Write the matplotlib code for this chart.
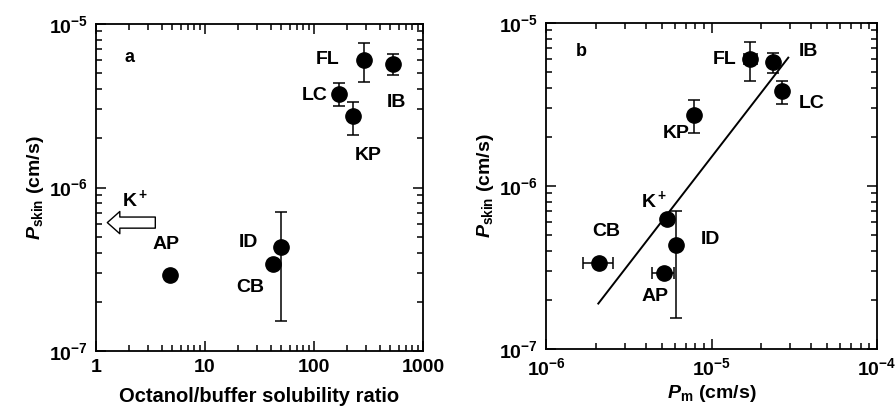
import matplotlib
matplotlib.use("Agg")
import matplotlib.pyplot as plt
import numpy as np

plt.rcParams['font.family'] = ['Liberation Sans', 'DejaVu Sans']
plt.rcParams['font.weight'] = 'bold'
plt.rcParams['axes.labelweight'] = 'bold'
plt.rcParams['mathtext.fontset'] = 'custom'
plt.rcParams['mathtext.rm'] = 'Liberation Sans:bold'
plt.rcParams['mathtext.bf'] = 'Liberation Sans:bold'
plt.rcParams['mathtext.it'] = 'Liberation Sans:italic:bold'
plt.rcParams['mathtext.default'] = 'rm'

# ---- panel a : skin permeability vs octanol/buffer ratio
names_a = ['FL', 'IB', 'LC', 'KP', 'ID', 'CB', 'AP']
ratio_a = [289, 527, 169, 226, 49.8, 42, 4.77]
pskin_a = [6.03e-6, 5.67e-6, 3.73e-6, 2.72e-6, 4.33e-7, 3.39e-7, 2.90e-7]
err_hi_a = [7.6e-6, 6.52e-6, 4.38e-6, 3.33e-6, 7.05e-7, 3.39e-7, 2.90e-7]
err_lo_a = [4.4e-6, 4.85e-6, 3.16e-6, 2.10e-6, 1.53e-7, 3.39e-7, 2.90e-7]
lab_x_a = [134, 565, 102, 313, 24.8, 25.9, 4.39]
lab_y_a = [6.03e-6, 3.33e-6, 3.63e-6, 1.56e-6, 4.64e-7, 2.46e-7, 4.45e-7]
k_pskin = 6.1e-7   # K+ only has upper bound on ratio -> arrow

# ---- panel b : skin vs membrane permeability
names_b = ['FL', 'IB', 'LC', 'KP', 'K$^+$', 'ID', 'CB', 'AP']
pm_b = [1.71e-5, 2.36e-5, 2.65e-5, 7.8e-6, 5.36e-6, 6.1e-6, 2.10e-6, 5.14e-6]
pskin_b = [6.04e-6, 5.74e-6, 3.81e-6, 2.74e-6, 6.3e-7, 4.33e-7, 3.39e-7, 2.94e-7]
yhi_b = [7.64e-6, 6.55e-6, 4.41e-6, 3.36e-6, 6.3e-7, 7.03e-7, 3.39e-7, 2.94e-7]
ylo_b = [4.41e-6, 4.93e-6, 3.2e-6, 2.1e-6, 6.3e-7, 1.55e-7, 3.39e-7, 2.94e-7]
xhi_b = [1.88e-5, 2.36e-5, 2.65e-5, 7.8e-6, 5.36e-6, 6.1e-6, 2.55e-6, 5.9e-6]
xlo_b = [1.58e-5, 2.36e-5, 2.65e-5, 7.8e-6, 5.36e-6, 6.1e-6, 1.68e-6, 4.35e-6]
lab_x_b = [1.20e-5, 3.83e-5, 4.05e-5, 6.08e-6, 4.48e-6, 9.84e-6, 2.30e-6, 4.54e-6]
lab_y_b = [5.99e-6, 6.66e-6, 3.19e-6, 2.10e-6, 8.2e-7, 4.71e-7, 5.25e-7, 2.09e-7]
fit_x = [2.07e-6, 2.91e-5]
fit_y = [1.90e-7, 6.13e-6]

fig = plt.figure(figsize=(8.96, 4.08), dpi=100)
ax1 = fig.add_axes([96/896, 57/408, 327/896, 327/408])
ax2 = fig.add_axes([546/896, 59/408, 331/896, 326/408])

def style(ax):
    ax.set_xscale('log')
    ax.set_yscale('log')
    for s in ax.spines.values():
        s.set_linewidth(1.3)
    ax.tick_params(which='both', direction='in', top=True, right=True, width=1.1, labelsize=14)
    ax.tick_params(which='major', length=7, pad=6)
    ax.tick_params(which='minor', length=4)
    ax.set_ylim(1e-7, 1e-5)
    ax.set_yticks([1e-7, 1e-6, 1e-5])
    ax.set_yticklabels(['10$^{-7}$', '10$^{-6}$', '10$^{-5}$'])
    ax.set_ylabel('$\\mathit{P}_{\\mathrm{skin}}$ (cm/s)', fontsize=14, labelpad=2)

style(ax1)
yerr_a = [np.array(pskin_a) - np.array(err_lo_a), np.array(err_hi_a) - np.array(pskin_a)]
ax1.errorbar(ratio_a, pskin_a, yerr=yerr_a, fmt='o', color='black', ms=11,
             elinewidth=1.1, capsize=4, capthick=1.1)
for n, lx, ly in zip(names_a, lab_x_a, lab_y_a):
    ax1.text(lx, ly, n, fontsize=14, ha='center', va='center')
ax1.annotate('', xy=(1.27, k_pskin), xytext=(3.5, k_pskin),
             arrowprops=dict(arrowstyle='simple,head_length=0.45,head_width=0.8,tail_width=0.4',
                             fc='white', ec='black', lw=1.0, mutation_scale=20,
                             shrinkA=0, shrinkB=0))
ax1.text(2.28, 8.5e-7, 'K$^+$', fontsize=14, ha='center', va='center')
ax1.text(2.05, 6.28e-6, 'a', fontsize=13, ha='center', va='center')
ax1.set_xlim(1, 1000)
ax1.set_xticks([1, 10, 100, 1000])
ax1.set_xticklabels(['1', '10', '100', '1000'])
ax1.set_xlabel('Octanol/buffer solubility ratio', fontsize=14.5, labelpad=8)

style(ax2)
yerr_b = [np.array(pskin_b) - np.array(ylo_b), np.array(yhi_b) - np.array(pskin_b)]
xerr_b = [np.array(pm_b) - np.array(xlo_b), np.array(xhi_b) - np.array(pm_b)]
ax2.errorbar(pm_b, pskin_b, yerr=yerr_b, xerr=xerr_b, fmt='o', color='black', ms=11,
             elinewidth=1.1, capsize=4, capthick=1.1)
ax2.plot(fit_x, fit_y, color='black', lw=1.4)
for n, lx, ly in zip(names_b, lab_x_b, lab_y_b):
    ax2.text(lx, ly, n, fontsize=14, ha='center', va='center')
ax2.text(1.63e-6, 6.66e-6, 'b', fontsize=13, ha='center', va='center')
ax2.set_xlim(1e-6, 1e-4)
ax2.set_xticks([1e-6, 1e-5, 1e-4])
ax2.set_xticklabels(['10$^{-6}$', '10$^{-5}$', '10$^{-4}$'])
ax2.set_xlabel('$\\mathit{P}_{\\mathrm{m}}$ (cm/s)', fontsize=14, labelpad=3)

fig.savefig('out.png', dpi=100)
